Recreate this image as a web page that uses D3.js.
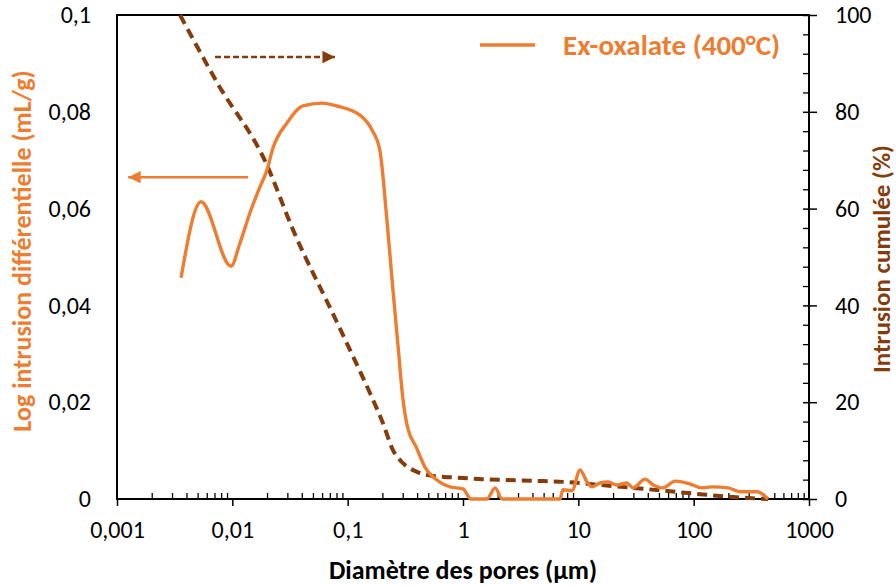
<!DOCTYPE html>
<html><head><meta charset="utf-8">
<script src="https://cdn.jsdelivr.net/npm/d3@7"></script>
<style>body{margin:0;background:#fff}svg{display:block}</style>
</head><body><svg id="c" width="896" height="587"></svg>
<script>
// ---- data ----
const diffDiam = [0.00359,0.00535,0.00974,0.01165,0.0142,0.01738,0.02,0.0225,0.0298,0.041,0.06,0.0809,0.128,0.163,0.19,0.219,0.247,0.273,0.302,0.327,0.347,0.384,0.468,0.63,0.77,1.0,1.17,1.61,1.9,2.18,6.93,7.36,8.8,10.35,11.9,13.1,15.4,18.1,21.6,26.3,29.8,37.9,44.6,54.2,68.9,92.9,118,144,199,252,355,442];
const diffVal  = [0.0457,0.0614,0.0481,0.0529,0.0591,0.0645,0.068,0.0725,0.0777,0.0812,0.0818,0.0812,0.0793,0.0762,0.0721,0.0576,0.0432,0.0318,0.0205,0.0153,0.0132,0.0112,0.0066,0.0035,0.0025,0.0021,0,0,0.0023,0,0,0.0019,0.0017,0.006,0.0035,0.0025,0.0033,0.0035,0.0029,0.0033,0.0023,0.0041,0.0029,0.0023,0.0037,0.0031,0.0023,0.0025,0.0023,0.0015,0.0015,0];
const cumDiam = [0.00352,0.00752,0.0196,0.0336,0.0776,0.1047,0.156,0.202,0.247,0.302,0.399,0.549,0.77,1.49,4.94,7.98,15.4,29.8,58.7,113,219,442];
const cumVal  = [100,85.7,69.4,55.6,37.4,30.8,21.9,15.7,10.1,7.4,5.6,4.75,4.5,4.1,3.7,3.5,2.9,2.3,1.65,1.0,0.4,0];
const xTicks = [0.001,0.01,0.1,1,10,100,1000];
const xTickLabels = ["0,001","0,01","0,1","1","10","100","1000"];
const yLeftTicks = [0,0.02,0.04,0.06,0.08,0.1];
const yLeftLabels = ["0","0,02","0,04","0,06","0,08","0,1"];
const yRightTicks = [0,20,40,60,80,100];
const seriesName = "Ex-oxalate (400°C)";
const xTitle = "Diamètre des pores (µm)";
const yLeftTitle = "Log intrusion différentielle (mL/g)";
const yRightTitle = "Intrusion cumulée (%)";

// ---- layout ----
const L = 117, R = 809, T = 15, B = 499;
const ORANGE = "#ED7D31", BROWN = "#843C0C";
const FONT = "Carlito, Calibri, Lato, sans-serif";
const TICKFS = 24, TITLEFS = 26;
const svg = d3.select("#c");
const x = d3.scaleLog().domain([0.001,1000]).range([L,R]);
const yL = d3.scaleLinear().domain([0,0.1]).range([B,T]);
const yR = d3.scaleLinear().domain([0,100]).range([B,T]);

// minor ticks x (inside)
const minorX = [];
for (let e=-3;e<3;e++) for (let m=2;m<=9;m++) minorX.push(m*Math.pow(10,e));
const gMinX = svg.append("g").attr("transform",`translate(0,${B})`)
  .call(d3.axisBottom(x).tickValues(minorX).tickSize(-6).tickFormat(""));
gMinX.select(".domain").remove();
gMinX.selectAll("line").attr("stroke","#000").attr("stroke-width",1.3);
// major x ticks + labels
const gX = svg.append("g").attr("transform",`translate(0,${B})`)
  .call(d3.axisBottom(x).tickValues(xTicks).tickSize(7).tickPadding(15)
        .tickFormat((d,i)=>xTickLabels[i]));
gX.select(".domain").remove();
gX.selectAll("line").attr("stroke","#000").attr("stroke-width",1.5);
gX.selectAll("text").attr("font-family",FONT).attr("font-size",TICKFS).attr("fill","#000");

// left axis labels (no ticks)
const gL = svg.append("g").attr("transform",`translate(${L},0)`)
  .call(d3.axisLeft(yL).tickValues(yLeftTicks).tickSize(0).tickPadding(26)
        .tickFormat((d,i)=>yLeftLabels[i]));
gL.select(".domain").remove();
gL.selectAll("text").attr("font-family",FONT).attr("font-size",TICKFS).attr("fill","#000");

// right axis minor ticks (inside)
const minorR = d3.range(0,101,4).filter(v=>v%20!==0);
const gMinR = svg.append("g").attr("transform",`translate(${R},0)`)
  .call(d3.axisRight(yR).tickValues(minorR).tickSize(-6).tickFormat(""));
gMinR.select(".domain").remove();
gMinR.selectAll("line").attr("stroke","#000").attr("stroke-width",1.3);
const gR = svg.append("g").attr("transform",`translate(${R},0)`)
  .call(d3.axisRight(yR).tickValues(yRightTicks).tickSizeInner(8).tickSizeOuter(0).tickPadding(18));
gR.select(".domain").remove();
gR.selectAll("line").attr("x1",-6).attr("stroke","#000").attr("stroke-width",1.5);
gR.selectAll("text").attr("font-family",FONT).attr("font-size",TICKFS).attr("fill","#000");

// frame
svg.append("rect").attr("x",L).attr("y",T).attr("width",R-L).attr("height",B-T)
  .attr("fill","none").attr("stroke","#000").attr("stroke-width",2);

// curves
const diffData = diffDiam.map((d,i)=>[d,diffVal[i]]);
const cumData = cumDiam.map((d,i)=>[d,cumVal[i]]);
svg.append("path").datum(cumData)
  .attr("d", d3.line().x(d=>x(d[0])).y(d=>yR(d[1])).curve(d3.curveMonotoneX))
  .attr("fill","none").attr("stroke",BROWN).attr("stroke-width",4).attr("stroke-dasharray","10,6");
svg.append("path").datum(diffData)
  .attr("d", d3.line().x(d=>x(d[0])).y(d=>yL(d[1])).curve(d3.curveMonotoneX))
  .attr("fill","none").attr("stroke",ORANGE).attr("stroke-width",3.4).attr("stroke-linejoin","round");

// annotation arrows
const defs = svg.append("defs");
function marker(id,color){
  defs.append("marker").attr("id",id).attr("viewBox","0 0 10 10").attr("refX",10).attr("refY",5)
    .attr("markerWidth",6).attr("markerHeight",5).attr("markerUnits","strokeWidth").attr("orient","auto")
    .append("path").attr("d","M0,0L10,5L0,10Z").attr("fill",color);
}
marker("ao",ORANGE); marker("ab",BROWN);
svg.append("line").attr("x1",x(0.01367)).attr("x2",x(0.00125)).attr("y1",yL(0.0665)).attr("y2",yL(0.0665))
  .attr("stroke",ORANGE).attr("stroke-width",2.5).attr("marker-end","url(#ao)");
svg.append("line").attr("x1",x(0.00708)).attr("x2",x(0.0776)).attr("y1",yR(91.3)).attr("y2",yR(91.3))
  .attr("stroke",BROWN).attr("stroke-width",2.5).attr("stroke-dasharray","6,3").attr("marker-end","url(#ab)");

// legend
svg.append("line").attr("x1",480).attr("x2",535).attr("y1",45).attr("y2",45)
  .attr("stroke",ORANGE).attr("stroke-width",3.4);
svg.append("text").attr("x",563).attr("y",45).attr("dominant-baseline","central")
  .attr("font-family",FONT).attr("font-weight","bold").attr("font-size",29).attr("fill",ORANGE).text(seriesName);

// titles
svg.append("text").attr("x",(L+R)/2).attr("y",579).attr("text-anchor","middle")
  .attr("font-family",FONT).attr("font-weight","bold").attr("font-size",TITLEFS).attr("fill","#000").text(xTitle);
svg.append("text").attr("transform",`translate(22,251) rotate(-90)`).attr("text-anchor","middle")
  .attr("dominant-baseline","central")
  .attr("font-family",FONT).attr("font-weight","bold").attr("font-size",TITLEFS).attr("fill",ORANGE).text(yLeftTitle);
svg.append("text").attr("transform",`translate(881,259) rotate(-90)`).attr("text-anchor","middle")
  .attr("dominant-baseline","central")
  .attr("font-family",FONT).attr("font-weight","bold").attr("font-size",25).attr("fill",BROWN).text(yRightTitle);
</script></body></html>
